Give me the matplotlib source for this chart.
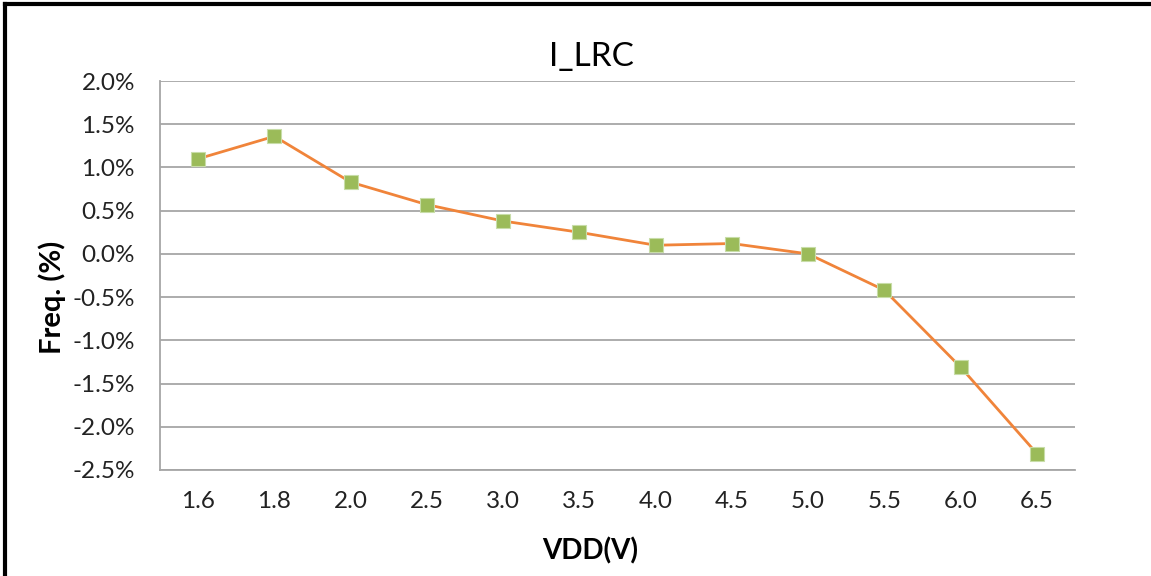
import matplotlib
matplotlib.use('Agg')
import matplotlib.pyplot as plt
from matplotlib.ticker import FuncFormatter
from matplotlib.lines import Line2D

plt.rcParams['font.family'] = ['Lato', 'DejaVu Sans']

vdd_labels = ['1.6', '1.8', '2.0', '2.5', '3.0', '3.5', '4.0', '4.5', '5.0', '5.5', '6.0', '6.5']
freq_pct = [1.10, 1.36, 0.83, 0.57, 0.38, 0.25, 0.10, 0.12, 0.00, -0.42, -1.31, -2.31]

fig = plt.figure(figsize=(11.51, 5.76), dpi=100)
ax = fig.add_axes([160 / 1151, 1 - 470 / 576, (1075 - 160) / 1151, (470 - 81) / 576])

x = range(len(vdd_labels))
ax.plot(x, freq_pct, color='#F0843A', lw=2.0, marker='s', ms=10,
        mfc='#9BBB59', mec='#C8DDA8', mew=0.8, zorder=3)

ax.set_xlim(-0.5, len(vdd_labels) - 0.5)
ax.set_ylim(-2.5, 2.0)
ax.set_yticks([2.0, 1.5, 1.0, 0.5, 0.0, -0.5, -1.0, -1.5, -2.0, -2.5])
ax.yaxis.set_major_formatter(FuncFormatter(lambda v, p: '{:.1f}%'.format(v)))
ax.set_xticks(list(x))
ax.set_xticklabels(vdd_labels)

ax.grid(axis='y', color='#A6A6A6', lw=1.3)
ax.set_axisbelow(True)
for s in ['top', 'right']:
    ax.spines[s].set_visible(False)
for s in ['left', 'bottom']:
    ax.spines[s].set_color('#A6A6A6')
    ax.spines[s].set_linewidth(1.3)
ax.tick_params(axis='both', length=0, labelsize=17.5, colors='#222222')
ax.tick_params(axis='y', pad=18)
ax.tick_params(axis='x', pad=15)

fig.text(591 / 1151, 1 - 57 / 576, 'I_LRC', ha='center', va='center', fontsize=24)
fig.text(590 / 1151, 1 - 551 / 576, 'VDD(V)', ha='center', va='center',
         fontsize=20, fontweight='bold')
fig.text(52 / 1151, 1 - 297 / 576, 'Freq. (%)', ha='center', va='center',
         fontsize=21, fontweight='bold', rotation=90)

# outer chart border (only left and top edges fall inside the image)
fig.add_artist(Line2D([5 / 1151, 5 / 1151], [0, 1 - 4 / 576], color='black', lw=3,
                      transform=fig.transFigure))
fig.add_artist(Line2D([5 / 1151, 1], [1 - 4 / 576, 1 - 4 / 576], color='black', lw=3,
                      transform=fig.transFigure))

fig.savefig('out.png', dpi=100)
